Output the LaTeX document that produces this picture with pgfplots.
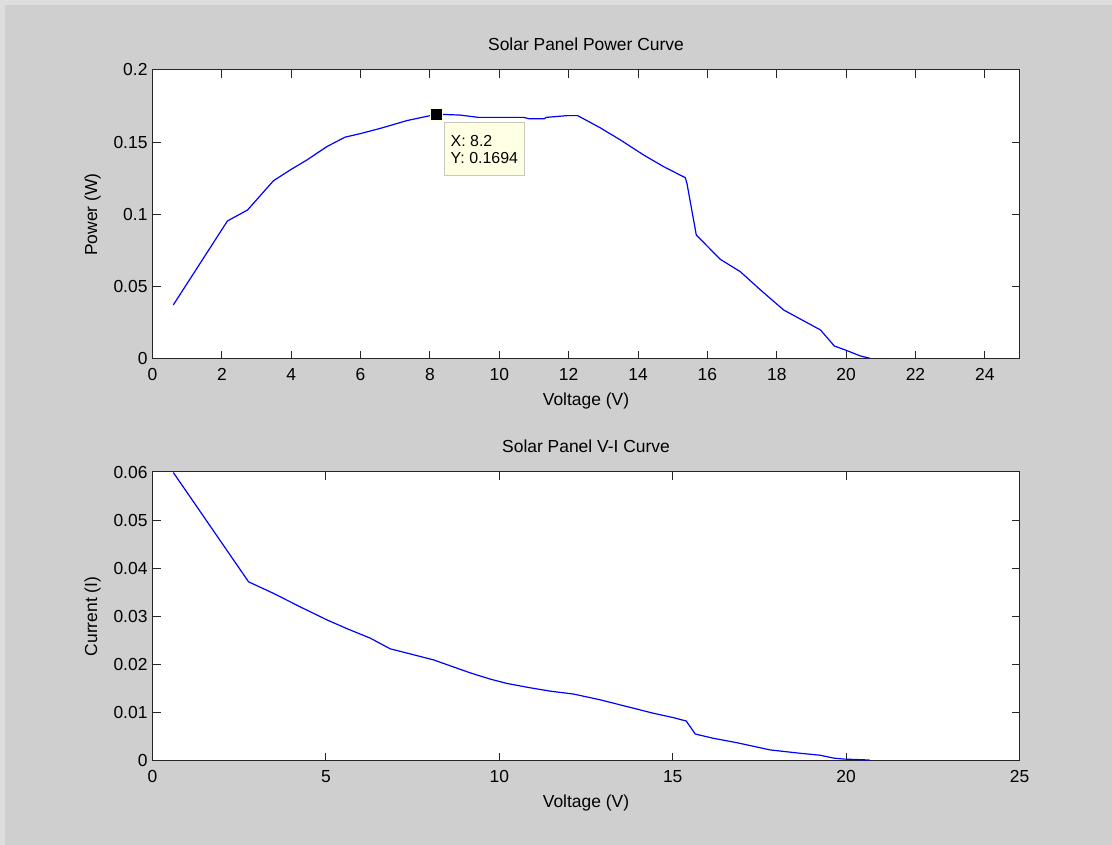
\documentclass[border=0pt]{standalone}
\usepackage{fontspec}
\setmainfont{Liberation Sans}
\usepackage{pgfplots}
\pgfplotsset{compat=1.18}
\definecolor{figbg}{RGB}{207,207,207}
\definecolor{figedge}{RGB}{222,222,222}
\definecolor{tipfill}{RGB}{255,255,228}
\definecolor{tipdraw}{RGB}{200,200,190}
\definecolor{axcol}{RGB}{38,38,38}
\pgfplotsset{
  matstyle/.style={
    scale only axis,
    width=867bp, height=289bp,
    anchor=south west,
    axis background/.style={fill=white},
    axis line style={axcol, line width=1bp},
    every tick/.style={axcol, line width=1bp},
    major tick length=8bp,
    tick align=inside,
    xmin=0, xmax=25,
    /pgf/number format/assume math mode=true,
    xticklabel style={anchor=base, yshift=-22bp},
    yticklabel style={xshift=-1.5bp},
    xlabel style={at={([yshift=-46.5bp]axis description cs:0.5,0)}, anchor=base},
    ylabel style={at={([xshift=-55.5bp]axis description cs:0,0.5)}, anchor=base, rotate=0},
    title style={at={([yshift=14bp]axis description cs:0.5,1)}, anchor=base},
    scaled ticks=false,
    clip=false,
  }
}
\begin{document}
\begin{tikzpicture}[x=1bp,y=1bp,font=\fontsize{17.5}{21}\selectfont]
\fill[figedge] (0,0) rectangle (1112,845);
\fill[figbg] (5,0) rectangle (1112,840);

\begin{axis}[matstyle,
  at={(152.5bp,486bp)},
  ymin=0, ymax=0.2,
  xtick={0,2,...,24},
  ytick={0,0.05,0.1,0.15,0.2},
  yticklabels={0,0.05,0.1,0.15,0.2},
  title={Solar Panel Power Curve},
  xlabel={Voltage (V)},
  ylabel={Power (W)},
]
\addplot[blue, line width=1.2bp] coordinates {
(0.6,0.0374) (2.16,0.0955) (2.74,0.1031) (2.91,0.1077) (3.49,0.1234)
(3.97,0.1308) (4.45,0.1377) (5.03,0.1470) (5.55,0.1535) (6.0,0.1560)
(6.57,0.1596) (7.34,0.1650) (8.2,0.1694) (8.87,0.1688) (9.4,0.1672)
(10.7,0.1672) (10.85,0.1663) (11.3,0.1663) (11.35,0.1672) (11.95,0.1684)
(12.26,0.1684) (12.91,0.1600) (13.49,0.1516) (14.16,0.1412) (14.74,0.1331)
(15.36,0.1255) (15.41,0.1216) (15.68,0.0858) (16.37,0.0690) (16.95,0.0604)
(17.53,0.0478) (18.2,0.0339) (19.26,0.0201) (19.66,0.0090) (19.98,0.0062)
(20.41,0.0021) (20.68,0.0005)
};
\addplot[only marks, mark=square*, mark size=6bp, mark options={fill=black, draw=tipfill, line width=0.8bp}] coordinates {(8.2,0.1694)};
\node[anchor=north west, xshift=7bp, yshift=-8bp, fill=tipfill, draw=tipdraw, line width=1bp,
      minimum width=80bp, minimum height=53bp, align=left, inner xsep=5bp,
      font=\fontsize{16}{17.3}\selectfont] at (axis cs:8.2,0.1694) {X: 8.2\\Y: 0.1694};
\end{axis}

\begin{axis}[matstyle,
  at={(152.5bp,84bp)},
  ymin=0, ymax=0.06,
  xtick={0,5,...,25},
  ytick={0,0.01,...,0.06},
  yticklabels={0,0.01,0.02,0.03,0.04,0.05,0.06},
  title={Solar Panel V-I Curve},
  xlabel={Voltage (V)},
  ylabel={Current (I)},
]
\addplot[blue, line width=1.2bp] coordinates {
(0.6,0.0599) (2.77,0.0372) (3.49,0.0348) (4.26,0.0320) (5.03,0.0293)
(5.6,0.0275) (6.28,0.0255) (6.85,0.0233) (7.34,0.0224) (8.1,0.0210)
(9.16,0.0183) (9.74,0.0170) (10.22,0.0161) (10.89,0.0152) (11.47,0.0145)
(12.14,0.0139) (12.91,0.0127) (13.68,0.0113) (14.45,0.0099) (15.02,0.0090)
(15.39,0.0083) (15.65,0.0056) (16.18,0.0047) (16.85,0.0038) (17.81,0.0023)
(18.68,0.0016) (19.25,0.0012) (19.64,0.0006) (19.93,0.0004) (20.68,0.0002)
};
\end{axis}
\pgfresetboundingbox
\path (0,0) rectangle (1112,845);
\end{tikzpicture}
\end{document}
